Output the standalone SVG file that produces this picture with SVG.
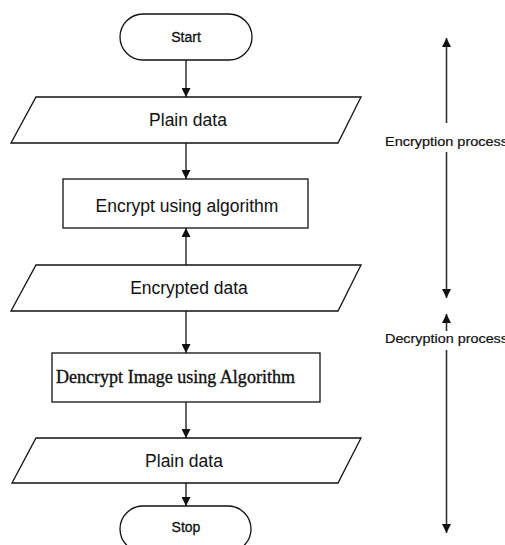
<svg xmlns="http://www.w3.org/2000/svg" width="505" height="545" viewBox="0 0 505 545">
<style>
.shape{fill:#fff;stroke:#111;stroke-width:1.3}
.lbl{font-family:"Liberation Sans",Arial,sans-serif;fill:#111;text-anchor:middle}
.small{stroke:#111;stroke-width:0.3}
.side{font-family:"Liberation Sans",Arial,sans-serif;fill:#111;font-size:13px;stroke:#111;stroke-width:0.2}
.conn{stroke:#111;stroke-width:1.3;fill:none}
.side-conn{stroke:#333;stroke-width:1.6;fill:none}
</style>
<defs>
<marker id="ah" viewBox="0 0 10 10" refX="10" refY="5" markerWidth="11" markerHeight="9" markerUnits="userSpaceOnUse" orient="auto">
<path d="M0,0 L10,5 L0,10 Z" fill="#111"/>
</marker>
</defs>
<rect width="505" height="545" fill="#fff"/>
<g id="connectors">
<line class="conn" x1="186" y1="60" x2="186" y2="97" marker-end="url(#ah)"/>
<line class="conn" x1="186" y1="143" x2="186" y2="179" marker-end="url(#ah)"/>
<line class="conn" x1="186" y1="265" x2="186" y2="228" marker-end="url(#ah)"/>
<line class="conn" x1="186" y1="311" x2="186" y2="353" marker-end="url(#ah)"/>
<line class="conn" x1="186" y1="402" x2="186" y2="438" marker-end="url(#ah)"/>
<line class="conn" x1="186" y1="483" x2="186" y2="506" marker-end="url(#ah)"/>
<line class="side-conn" x1="446.5" y1="123" x2="446.5" y2="38" marker-end="url(#ah)"/>
<line class="side-conn" x1="446.5" y1="152" x2="446.5" y2="298" marker-end="url(#ah)"/>
<line class="side-conn" x1="446.5" y1="331" x2="446.5" y2="314" marker-end="url(#ah)"/>
<line class="side-conn" x1="446.5" y1="350" x2="446.5" y2="533" marker-end="url(#ah)"/>
</g>
<g id="start">
<rect class="shape" x="120" y="14" width="132" height="46" rx="23" ry="23"/>
<text class="lbl small" x="186" y="42" font-size="14">Start</text>
</g>
<g id="plain-data-1">
<polygon class="shape" points="36,97 361,97 338,143 11,143"/>
<text class="lbl" x="188" y="126" font-size="17.5">Plain data</text>
</g>
<g id="encrypt">
<rect class="shape" x="63" y="179" width="245" height="49"/>
<text class="lbl" x="187" y="212" font-size="17.5">Encrypt using algorithm</text>
</g>
<g id="encrypted-data">
<polygon class="shape" points="36,265 361,265 338,311 11,311"/>
<text class="lbl" x="189" y="294" font-size="17.5">Encrypted data</text>
</g>
<g id="decrypt">
<rect class="shape" x="52" y="353" width="268" height="49"/>
<text x="56" y="383" font-family="'Liberation Serif','Times New Roman',serif" font-size="18" fill="#111" stroke="#111" stroke-width="0.35" textLength="239" lengthAdjust="spacingAndGlyphs">Dencrypt Image using Algorithm</text>
</g>
<g id="plain-data-2">
<polygon class="shape" points="36,438 361,438 338,483 12,483"/>
<text class="lbl" x="184" y="467" font-size="17.5">Plain data</text>
</g>
<g id="stop">
<rect class="shape" x="120" y="506" width="131" height="46" rx="23" ry="23"/>
<text class="lbl small" x="186" y="532" font-size="14">Stop</text>
</g>
<g id="encryption-label">
<text class="side" x="385" y="146" textLength="123" lengthAdjust="spacingAndGlyphs">Encryption process</text>
</g>
<g id="decryption-label">
<text class="side" x="385" y="343" textLength="123" lengthAdjust="spacingAndGlyphs">Decryption process</text>
</g>
</svg>
